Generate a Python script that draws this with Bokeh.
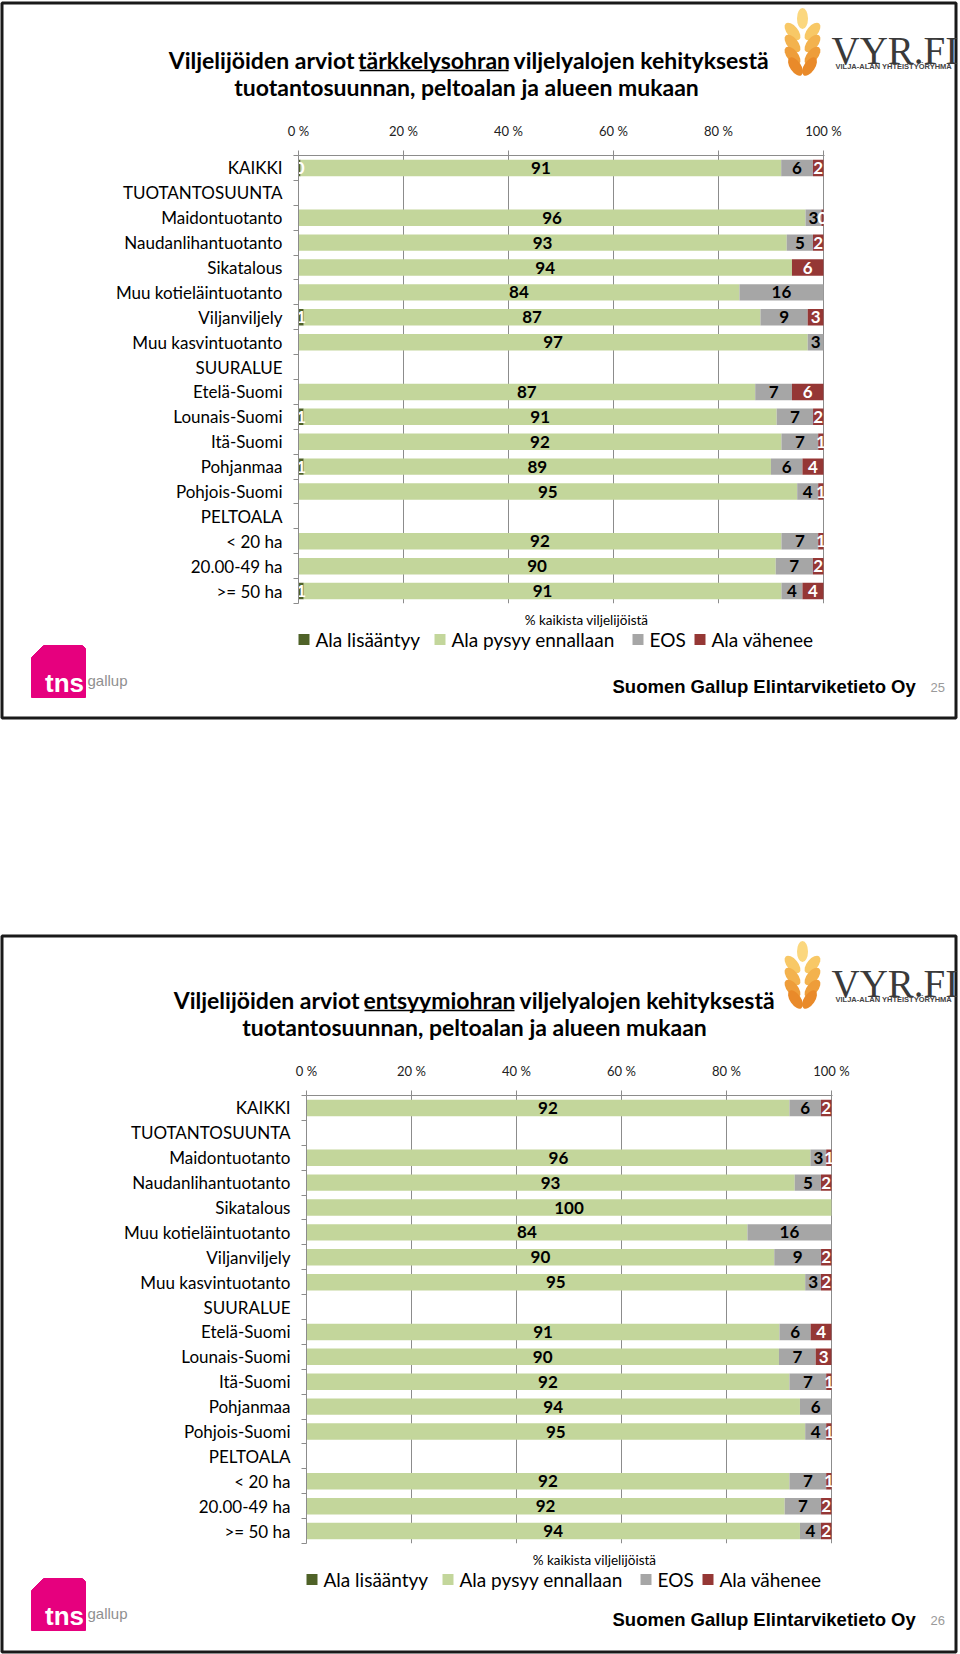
from bokeh.plotting import figure
from bokeh.models import Range1d, FixedTicker, ColumnDataSource
from bokeh.core.properties import value
from bokeh.embed import file_html
from bokeh.resources import INLINE

# ---------------- data ----------------
categories = ["KAIKKI", "TUOTANTOSUUNTA", "Maidontuotanto", "Naudanlihantuotanto",
              "Sikatalous", "Muu kotieläintuotanto", "Viljanviljely", "Muu kasvintuotanto",
              "SUURALUE", "Etelä-Suomi", "Lounais-Suomi", "Itä-Suomi", "Pohjanmaa",
              "Pohjois-Suomi", "PELTOALA", "< 20 ha", "20.00-49 ha", ">= 50 ha"]
series_names = ["Ala lisääntyy", "Ala pysyy ennallaan", "EOS", "Ala vähenee"]
x_ticks = [0, 20, 40, 60, 80, 100]
x_tick_labels = ["0 %", "20 %", "40 %", "60 %", "80 %", "100 %"]

# Slide 25: tärkkelysohra
lis1 = [0.4, None, None, None, None, None, 1, None, None, None, 1, None, 1, None, None, None, None, 1]
pys1 = [91, None, 96, 93, 94, 84, 87, 97, None, 87, 91, 92, 89, 95, None, 92, 90, 91]
eos1 = [6, None, 3, 5, None, 16, 9, 3, None, 7, 7, 7, 6, 4, None, 7, 7, 4]
vah1 = [2, None, 0.4, 2, 6, None, 3, None, None, 6, 2, 1, 4, 1, None, 1, 2, 4]

# Slide 26: entsyymiohra
lis2 = [None] * 18
pys2 = [92, None, 96, 93, 100, 84, 90, 95, None, 91, 90, 92, 94, 95, None, 92, 92, 94]
eos2 = [6, None, 3, 5, None, 16, 9, 3, None, 6, 7, 7, 6, 4, None, 7, 7, 4]
vah2 = [2, None, 1, 2, None, None, 2, 2, None, 4, 3, 1, None, 1, None, 1, 2, 2]

title_pre = "Viljelijöiden arviot"
title_words = ["tärkkelysohran", "entsyymiohran"]
title_post = "viljelyalojen kehityksestä"
title_line2 = "tuotantosuunnan, peltoalan ja alueen mukaan"
axis_note = "% kaikista viljelijöistä"
footer = "Suomen Gallup Elintarviketieto Oy"
page_numbers = ["25", "26"]

colors = ["#4f6228", "#c3d69b", "#a6a6a6", "#953735"]
label_colors = ["white", "black", "black", "white"]
GRAY = "#8c8c8c"
FONT = "Lato"
PAGE_W = 960


def make_slide(vals, word, word_span, pageno, fig_top, h, L, T, W, H, dx, dy, sy, border):
    n = len(categories)
    B = h - T - H
    p = figure(width=PAGE_W, height=h, x_range=Range1d(0, 100.2),
               y_range=Range1d(n - 0.5, -0.5), x_axis_location="above",
               output_backend="svg", toolbar_location=None,
               min_border_left=L, min_border_right=PAGE_W - L - W,
               min_border_top=T, min_border_bottom=B)
    p.outline_line_color = None
    p.background_fill_color = "white"
    p.border_fill_color = "white"

    # x axis (top)
    xa = p.xaxis[0]
    xa.ticker = FixedTicker(ticks=x_ticks, minor_ticks=[])
    xa.major_label_overrides = {t: l for t, l in zip(x_ticks, x_tick_labels)}
    xa.axis_line_color = GRAY
    xa.major_tick_line_color = GRAY
    xa.major_tick_out = 5
    xa.major_tick_in = 0
    xa.minor_tick_line_color = None
    xa.major_label_text_font = FONT
    xa.major_label_text_font_size = "13px"
    xa.major_label_text_color = "#222222"
    xa.major_label_standoff = 12

    p.xgrid.ticker = FixedTicker(ticks=x_ticks, minor_ticks=[])
    p.xgrid.grid_line_color = GRAY
    p.ygrid.visible = False

    # y axis (categories)
    ya = p.yaxis[0]
    ya.ticker = FixedTicker(ticks=list(range(n)), minor_ticks=[i - 0.5 for i in range(n + 1)])
    ya.major_label_overrides = {i: c for i, c in enumerate(categories)}
    ya.axis_line_color = GRAY
    ya.major_tick_line_color = None
    ya.major_tick_out = 0
    ya.major_tick_in = 0
    ya.minor_tick_line_color = GRAY
    ya.minor_tick_out = 5
    ya.minor_tick_in = 0
    ya.major_label_text_font = FONT
    ya.major_label_text_font_size = "17px"
    ya.major_label_text_color = "black"
    ya.major_label_standoff = 11

    # stacked 100 % bars
    keys = ["lis", "pys", "eos", "vah"]
    totals = [sum((v[i] or 0) for v in vals) for i in range(n)]
    data = {"y": list(range(n))}
    for k, v in zip(keys, vals):
        data[k] = [((x or 0) / t * 100) if t else 0 for x, t in zip(v, totals)]
    src = ColumnDataSource(data)
    p.hbar_stack(keys, y="y", height=0.66, color=colors, source=src, line_width=0)

    left = [0.0] * n
    for j, (k, v) in enumerate(zip(keys, vals)):
        xs, ys, ts = [], [], []
        for i in range(n):
            w = data[k][i]
            if v[i] is not None:
                xs.append(left[i] + w / 2)
                ys.append(i)
                ts.append(str(int(round(v[i]))))
            left[i] += w
        p.text(x=xs, y=ys, text=ts, text_color=label_colors[j], text_font=value(FONT),
               text_font_style="bold", text_font_size="17px", text_align="center",
               text_baseline="middle")

    # decoration coordinates = page pixels
    p.extra_x_ranges = {"px": Range1d(L, L + W)}
    p.extra_y_ranges = {"py": Range1d(fig_top + T + H, fig_top + T)}
    kw = dict(x_range_name="px", y_range_name="py", level="overlay")

    def txt(x, y, t, size, font=FONT, style="normal", color="black", align="left", base="middle"):
        p.text(x=[x], y=[y], text=[t], text_font=value(font), text_font_size=size,
               text_font_style=style, text_color=color, text_align=align,
               text_baseline=base, **kw)

    # legend (series colour keys)
    sq_x = [298 + dx, 434 + dx, 632 + dx, 694 + dx]
    ly = 639 + dy
    p.quad(left=sq_x, right=[x + 11 for x in sq_x], top=[ly - 5.5] * 4, bottom=[ly + 5.5] * 4,
           fill_color=colors, line_color=None, **kw)
    for x, nm in zip(sq_x, series_names):
        txt(x + 17, ly, nm, "19px")

    # slide border
    p.quad(left=[1.5], right=[955.5], top=[border[0]], bottom=[border[1]], fill_color=None,
           line_color="#1a1a1a", line_width=3, **kw)

    # title
    wl, wr = word_span
    ty1, ty2 = 59 + dy, 86 + dy
    txt(wl - 5, ty1, title_pre, "23px", style="bold", align="right")
    txt((wl + wr) / 2, ty1, word, "23px", style="bold", align="center")
    txt(wr + 5, ty1, title_post, "23px", style="bold", align="left")
    p.segment(x0=[wl], x1=[wr], y0=[ty1 + 11], y1=[ty1 + 11], line_color="black",
              line_width=1.5, **kw)
    txt(466 + dx, ty2, title_line2, "23px", style="bold", align="center")

    # axis note
    txt(586 + dx, 619 + dy, axis_note, "13.5px", align="center")

    # footer
    txt(612, 686 + sy, footer, "18.5px", font="Liberation Sans", style="bold")
    txt(930, 687 + sy, pageno, "13px", font="Liberation Sans", color="#9a9a9a")

    # tns gallup logo
    p.patch(x=[31, 43, 82, 85, 85, 31], y=[657 + sy, 645 + sy, 645 + sy, 648 + sy, 697 + sy, 697 + sy],
            color="#e6007e", **kw)
    txt(64, 682 + sy, "tns", "26px", font="Liberation Sans", style="bold", color="white",
        align="center", base="alphabetic")
    txt(87, 680 + sy, "gallup", "15px", font="Liberation Sans", color="#8f8f8f", base="alphabetic")

    # VYR.FI logo
    gy = [18, 31, 31, 43, 43, 55, 55, 66, 66]
    gx = [802, 792, 812, 792, 812, 792, 812, 795, 809]
    ga = [0, 0.7, -0.7, 0.7, -0.7, 0.7, -0.7, 0.6, -0.6]
    gc = ["#fbd77e", "#f8c866", "#f8c866", "#f3b24e", "#f3b24e", "#ee9d3a", "#ee9d3a",
          "#e98a2a", "#e98a2a"]
    p.ellipse(x=gx, y=[v + sy for v in gy], width=11, height=21, angle=ga, fill_color=gc,
              line_color=None, **kw)
    txt(831, 50 + sy, "VYR.FI", "39px", font="Liberation Serif", color="#3a3a3a", base="alphabetic")
    txt(835, 66 + sy, "VILJA-ALAN YHTEISTYÖRYHMÄ", "7.5px", font="Liberation Sans", style="bold",
        color="#444444", base="alphabetic")
    return p


p1 = make_slide([lis1, pys1, eos1, vah1], title_words[0], (359, 508), page_numbers[0],
                fig_top=0, h=828, L=298, T=155, W=526, H=448, dx=0, dy=0, sy=0,
                border=(2.5, 717.5))
p2 = make_slide([lis2, pys2, eos2, vah2], title_words[1], (364, 514), page_numbers[1],
                fig_top=828, h=826, L=306, T=267, W=526, H=448, dx=8, dy=940, sy=933,
                border=(935.5, 1651.5))

open("out.html", "w").write(file_html([p1, p2], INLINE))
